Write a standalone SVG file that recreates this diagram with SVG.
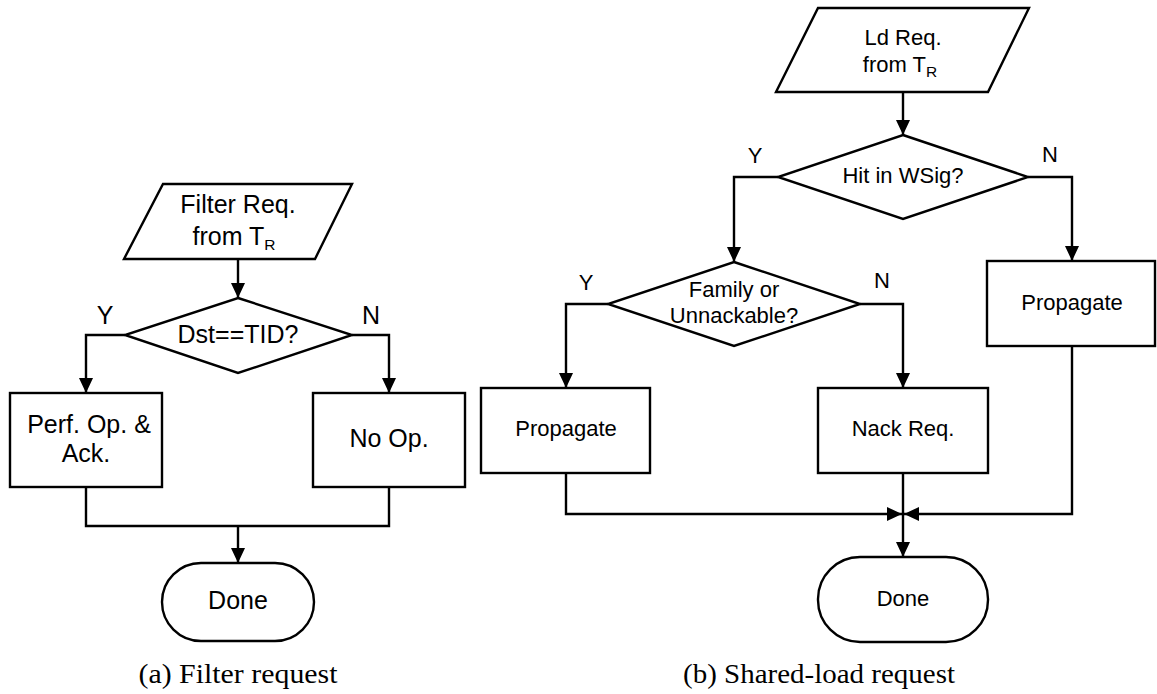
<svg xmlns="http://www.w3.org/2000/svg" width="1157" height="694" viewBox="0 0 1157 694">
  <style>
    .shape { fill: #ffffff; stroke: #000000; stroke-width: 2.4; stroke-linejoin: miter; }
    .wire { fill: none; stroke: #000000; stroke-width: 2.4; }
    .lbl { font-family: "Liberation Sans", Arial, sans-serif; fill: #000000; text-anchor: middle; }
    .big { font-size: 25px; }
    .small { font-size: 22px; }
    .sub { font-size: 15.5px; }
    .cap { font-family: "Liberation Serif", "Times New Roman", serif; font-size: 27px; fill: #000000; text-anchor: middle; }
  </style>
  <defs>
    <marker id="arrow" markerUnits="userSpaceOnUse" markerWidth="15" markerHeight="14" refX="15" refY="7" orient="auto">
      <path d="M0,0 L15,7 L0,14 z" fill="#000000"/>
    </marker>
  </defs>
  <rect width="1157" height="694" fill="#ffffff"/>

  <!-- (a) filter request flow -->
  <g id="a-connectors">
    <path class="wire" d="M238,259 V298" marker-end="url(#arrow)"/>
    <path class="wire" d="M125,335 H86 V393" marker-end="url(#arrow)"/>
    <path class="wire" d="M352,335 H389 V393" marker-end="url(#arrow)"/>
    <path class="wire" d="M86,487 V526 H389 V487"/>
    <path class="wire" d="M238,526 V563" marker-end="url(#arrow)"/>
  </g>

  <g id="a-filter-req">
    <polygon class="shape" points="163,184 352,184 315,259 124,259"/>
    <text class="lbl big" x="238" y="213">Filter Req.</text>
    <text class="lbl big" x="234" y="245">from T<tspan class="sub" dy="5">R</tspan></text>
  </g>

  <g id="a-dst-check">
    <polygon class="shape" points="238,298 352,335 238,373 125,335"/>
    <text class="lbl big" x="238" y="343">Dst==TID?</text>
  </g>
  <text class="lbl big" x="105" y="324">Y</text>
  <text class="lbl big" x="371" y="324">N</text>

  <g id="a-perf-op">
    <rect class="shape" x="10" y="393" width="152" height="94"/>
    <text class="lbl big" x="89" y="433">Perf. Op. &amp;</text>
    <text class="lbl big" x="86" y="462">Ack.</text>
  </g>

  <g id="a-no-op">
    <rect class="shape" x="313" y="393" width="152" height="94"/>
    <text class="lbl big" x="389" y="447">No Op.</text>
  </g>

  <g id="a-done">
    <rect class="shape" x="162" y="563" width="152" height="78" rx="39" ry="39"/>
    <text class="lbl big" x="238" y="609">Done</text>
  </g>

  <text class="cap" x="238" y="683" textLength="199" lengthAdjust="spacingAndGlyphs">(a) Filter request</text>

  <!-- (b) shared-load request flow -->
  <g id="b-connectors">
    <path class="wire" d="M903,92 V135" marker-end="url(#arrow)"/>
    <path class="wire" d="M778,177 H734 V262" marker-end="url(#arrow)"/>
    <path class="wire" d="M1028,177 H1072 V261" marker-end="url(#arrow)"/>
    <path class="wire" d="M608,304 H566 V388" marker-end="url(#arrow)"/>
    <path class="wire" d="M860,304 H903 V388" marker-end="url(#arrow)"/>
    <path class="wire" d="M566,473 V514 H902" marker-end="url(#arrow)"/>
    <path class="wire" d="M1072,346 V514 H904" marker-end="url(#arrow)"/>
    <path class="wire" d="M903,473 V557" marker-end="url(#arrow)"/>
  </g>

  <g id="b-ld-req">
    <polygon class="shape" points="818,8 1029,8 988,92 776,92"/>
    <text class="lbl small" x="903" y="45">Ld Req.</text>
    <text class="lbl small" x="900" y="72">from T<tspan class="sub" dy="5">R</tspan></text>
  </g>

  <g id="b-hit-wsig">
    <polygon class="shape" points="903,135 1028,177 903,219 778,177"/>
    <text class="lbl small" x="903" y="183">Hit in WSig?</text>
  </g>
  <text class="lbl small" x="755" y="163">Y</text>
  <text class="lbl small" x="1050" y="162">N</text>

  <g id="b-family-check">
    <polygon class="shape" points="734,262 860,304 734,346 608,304"/>
    <text class="lbl small" x="734" y="297">Family or</text>
    <text class="lbl small" x="734" y="323">Unnackable?</text>
  </g>
  <text class="lbl small" x="586" y="290">Y</text>
  <text class="lbl small" x="882" y="288">N</text>

  <g id="b-propagate-left">
    <rect class="shape" x="481" y="388" width="169" height="85"/>
    <text class="lbl small" x="566" y="436">Propagate</text>
  </g>

  <g id="b-nack-req">
    <rect class="shape" x="818" y="388" width="170" height="85"/>
    <text class="lbl small" x="903" y="436">Nack Req.</text>
  </g>

  <g id="b-propagate-right">
    <rect class="shape" x="987" y="261" width="168" height="85"/>
    <text class="lbl small" x="1072" y="310">Propagate</text>
  </g>

  <g id="b-done">
    <rect class="shape" x="818" y="557" width="170" height="85" rx="42" ry="42"/>
    <text class="lbl small" x="903" y="606">Done</text>
  </g>

  <text class="cap" x="819" y="683" textLength="272" lengthAdjust="spacingAndGlyphs">(b) Shared-load request</text>
</svg>
